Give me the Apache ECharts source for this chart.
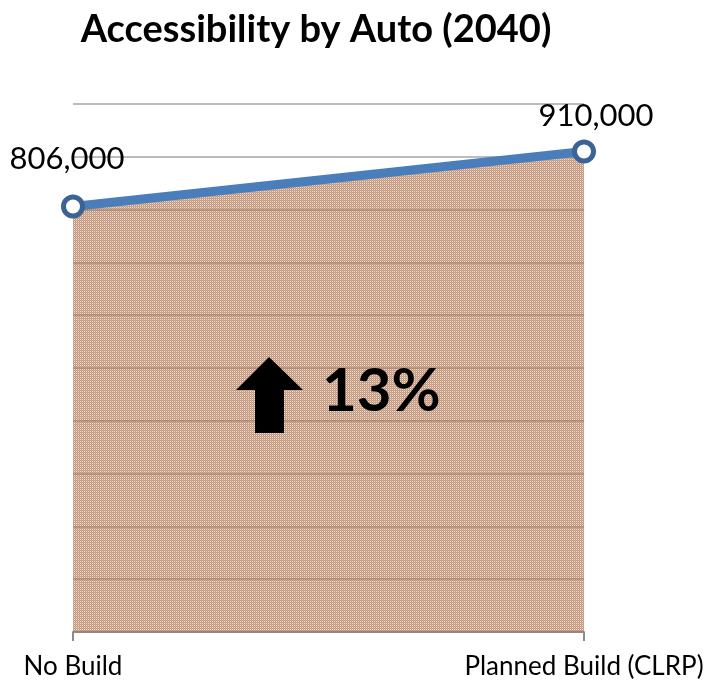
<!DOCTYPE html>
<html>
<head>
<meta charset="utf-8">
<script src="https://cdn.jsdelivr.net/npm/echarts@6/dist/echarts.min.js"></script>
<style>html,body{margin:0;padding:0;background:#fff;}#c{width:709px;height:685px;}</style>
</head>
<body>
<div id="c"></div>
<script>
var titleText = 'Accessibility by Auto (2040)';
var categories = ['No Build', 'Planned Build (CLRP)'];
var accessValues = [806000, 910000];
var changeText = '13%';
var yMin = 0, yMax = 1000000, yStep = 100000;

// textured fill pattern
var pc = document.createElement('canvas');
pc.width = 4; pc.height = 4;
var pctx = pc.getContext('2d');
var base = [176, 118, 80];
function rgba(a) { return 'rgba(' + base[0] + ',' + base[1] + ',' + base[2] + ',' + a + ')'; }
for (var py = 0; py < 4; py++) {
  for (var px = 0; px < 4; px++) {
    var a;
    if ((px + py) % 2 === 0) a = 0.75;
    else if (px % 2 === 0) a = 0.25;
    else a = 0.6;
    pctx.fillStyle = rgba(a);
    pctx.fillRect(px, py, 1, 1);
  }
}

var labelOffsets = [[-6, -15], [12, -3]];
var seriesData = accessValues.map(function (v, i) {
  return {
    value: v,
    label: { offset: labelOffsets[i] }
  };
});

var chart = echarts.init(document.getElementById('c'));
chart.setOption({
  animation: false,
  title: {
    text: titleText,
    left: 311, top: 6, textAlign: 'center',
    textStyle: { fontFamily: 'Lato', fontWeight: 'bold', fontSize: 38, color: '#000' }
  },
  grid: { left: 73, right: 125, top: 104, bottom: 53 },
  xAxis: {
    type: 'category', data: categories, boundaryGap: false,
    axisLine: { lineStyle: { color: '#8c8c8c', width: 2 } },
    axisTick: { show: true, length: 9, lineStyle: { color: '#8c8c8c', width: 2 } },
    axisLabel: { fontFamily: 'Lato', fontSize: 26, color: '#000', margin: 22, showMinLabel: true, showMaxLabel: true },
    splitLine: { show: false }
  },
  yAxis: {
    type: 'value', min: yMin, max: yMax, interval: yStep,
    axisLabel: { show: false }, axisLine: { show: false }, axisTick: { show: false },
    splitLine: { lineStyle: { color: '#a6a6a6', width: 1.5 } }
  },
  series: [{
    type: 'line',
    data: seriesData,
    symbol: 'circle', symbolSize: 19,
    itemStyle: { color: '#ffffff', borderColor: '#3a6496', borderWidth: 5 },
    lineStyle: { color: '#4a7ebb', width: 9 },
    areaStyle: { color: { image: pc, repeat: 'repeat' }, opacity: 1 },
    label: {
      show: true, position: 'top', fontFamily: 'Lato', fontSize: 31, color: '#000',
      formatter: function (p) { return p.value.toLocaleString('en-US'); }
    },
    z: 3
  }],
  graphic: [
    {
      type: 'polygon', z: 10,
      shape: { points: [[269, 357], [303, 390], [284, 390], [284, 433], [255, 433], [255, 390], [236, 390]] },
      style: { fill: '#000' }
    },
    {
      type: 'text', z: 10, left: 322, top: 362,
      style: { text: changeText, fontFamily: 'Lato', fontWeight: 'bold', fontSize: 60, fill: '#000' }
    }
  ]
});
</script>
</body>
</html>
